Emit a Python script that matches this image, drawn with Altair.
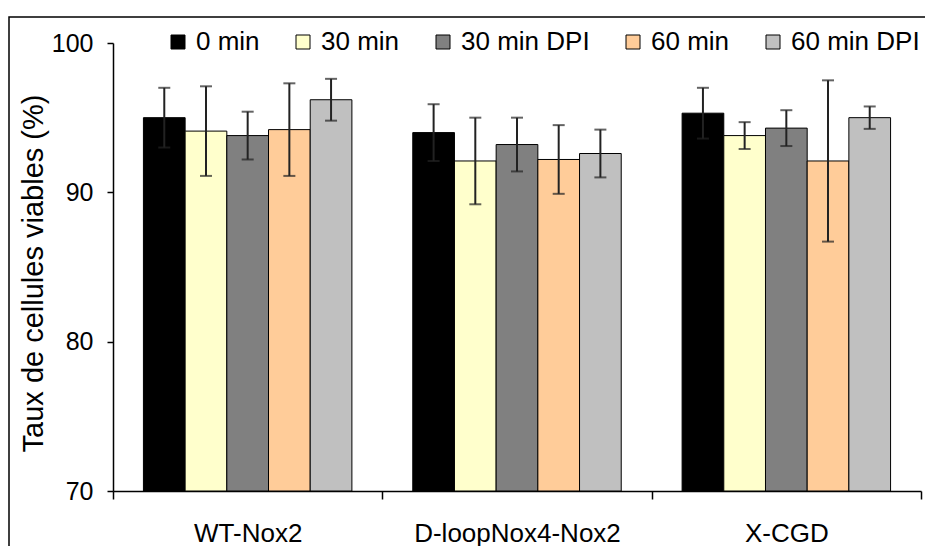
import altair as alt
import pandas as pd

groups = ["WT-Nox2", "D-loopNox4-Nox2", "X-CGD"]
series = ["0 min", "30 min", "30 min DPI", "60 min", "60 min DPI"]
colors = ["#000000", "#FFFFCC", "#808080", "#FFCC99", "#C0C0C0"]

means = {
    "WT-Nox2":         [95.0, 94.1, 93.8, 94.2, 96.2],
    "D-loopNox4-Nox2": [94.0, 92.1, 93.2, 92.2, 92.6],
    "X-CGD":           [95.3, 93.8, 94.3, 92.1, 95.0],
}
errors = {
    "WT-Nox2":         [2.0, 3.0, 1.6, 3.1, 1.4],
    "D-loopNox4-Nox2": [1.9, 2.9, 1.8, 2.3, 1.6],
    "X-CGD":           [1.7, 0.9, 1.2, 5.4, 0.75],
}

rows = []
for g in groups:
    for s, m, e in zip(series, means[g], errors[g]):
        rows.append({"group": g, "series": s, "mean": m, "lo": m - e, "hi": m + e})
df = pd.DataFrame(rows)

FONT = "Liberation Sans"

x = alt.X("group:N", sort=groups, title=None,
          scale=alt.Scale(paddingInner=0, paddingOuter=0),
          axis=alt.Axis(labelAngle=0, labelFontSize=26, labelColor="black",
                        labelFont=FONT, tickBand="extent", tickSize=8, labelLimit=0,
                        tickColor="black", domainColor="black", labelPadding=21))
xo = alt.XOffset("series:N", sort=series,
                 scale=alt.Scale(paddingInner=0, paddingOuter=0.73))
y = alt.Y("mean:Q", title="Taux de cellules viables (%)",
          scale=alt.Scale(domain=[70, 100], zero=False, nice=False),
          axis=alt.Axis(values=[70, 80, 90, 100], grid=False, tickSize=6,
                        labelPadding=14, labelFontSize=25, labelFont=FONT,
                        labelColor="black", tickColor="black", domainColor="black",
                        titleFontSize=29, titleFont=FONT, titleFontWeight="normal",
                        titleColor="black", titleX=-71, titleY=230,
                        titleBaseline="alphabetic", titleAngle=270))

color = alt.Color("series:N", sort=series,
                  scale=alt.Scale(domain=series, range=colors),
                  legend=alt.Legend(title=None, orient="none", legendX=52, legendY=-14,
                                    direction="horizontal", columns=5, columnPadding=30,
                                    symbolType="square", symbolSize=196,
                                    symbolStrokeColor="black", symbolStrokeWidth=1,
                                    labelFontSize=26, labelFont=FONT, labelColor="black",
                                    labelOffset=5))

base = alt.Chart(df)

bars = base.mark_bar(stroke="black", strokeWidth=1).encode(
    x=x, xOffset=xo, y=y, y2=alt.datum(70), fill=color)

rules = base.mark_rule(color="#222222", strokeWidth=2).encode(
    x=x, xOffset=xo, y=alt.Y("lo:Q"), y2="hi:Q")
caps_hi = base.mark_tick(color="#222222", thickness=2, size=12).encode(
    x=x, xOffset=xo, y=alt.Y("hi:Q"))
caps_lo = base.mark_tick(color="#222222", thickness=2, size=12).encode(
    x=x, xOffset=xo, y=alt.Y("lo:Q"))

frame = alt.Chart(pd.DataFrame({"a": [0]})).mark_rect(
    fill=None, stroke="black", strokeWidth=1.5, clip=False).encode(
    x=alt.value(-104), x2=alt.value(900), y=alt.value(-26), y2=alt.value(600))

chart = alt.layer(frame, bars, rules, caps_hi, caps_lo).properties(
    width=808, height=448,
    autosize=alt.AutoSizeParams(type="none"),
    padding={"left": 105, "top": 35, "right": 4, "bottom": 55},
).configure_view(stroke=None).configure_axis(domainWidth=1.5, tickWidth=1.5)

chart.save("out.html", embed_options={"renderer": "svg", "actions": False})
